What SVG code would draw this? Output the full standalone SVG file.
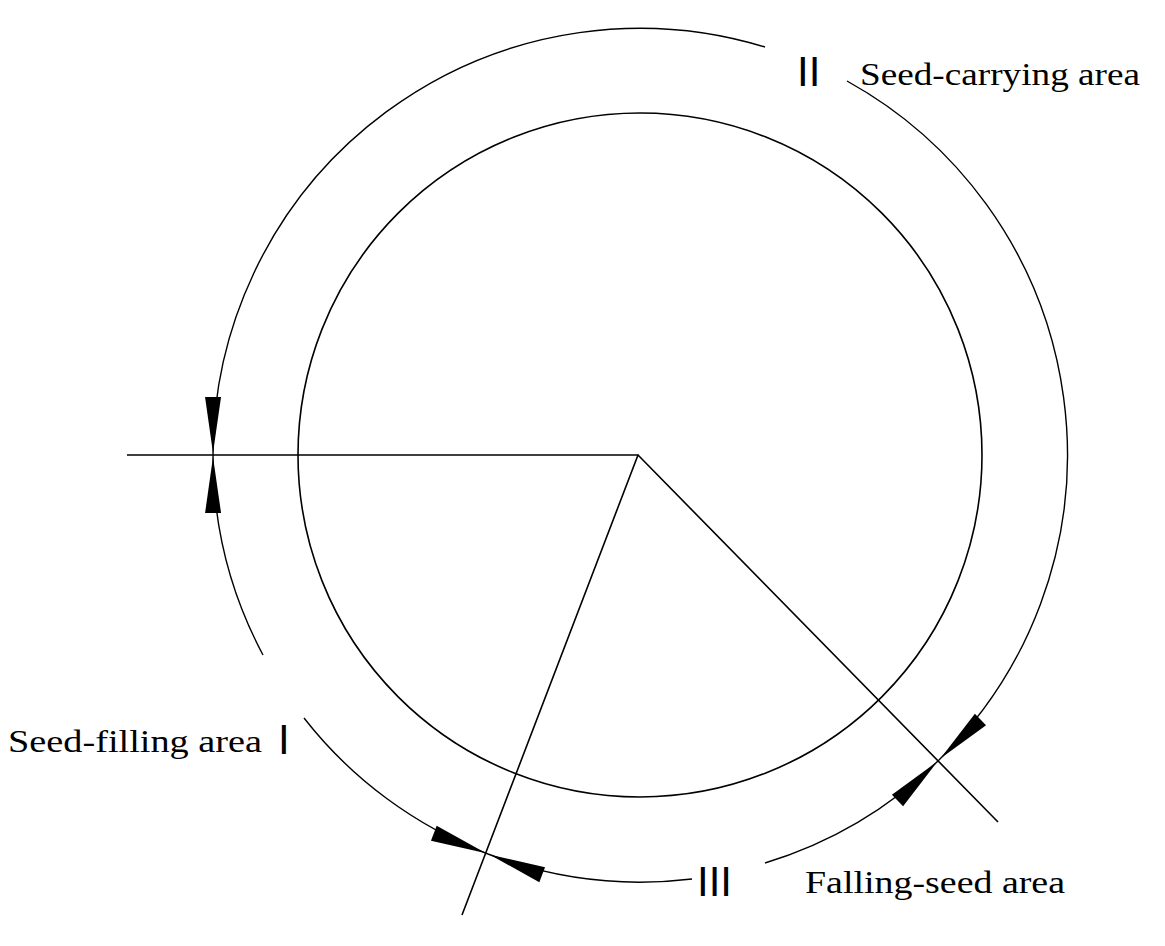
<svg xmlns="http://www.w3.org/2000/svg" width="1165" height="946" viewBox="0 0 1165 946">
<style>
.ln{fill:none;stroke:#000;stroke-width:1.6}
.arc{fill:none;stroke:#000;stroke-width:1.4;marker-start:url(#ah)}
.t{font-family:"Liberation Serif",serif;font-size:32px;fill:#000}
.r{font-family:"Liberation Sans",sans-serif;font-size:42px;fill:#000}
</style>
<defs>
<marker id="ah" markerUnits="userSpaceOnUse" markerWidth="80" markerHeight="30" viewBox="-60 -15 80 30" refX="0" refY="0" orient="auto-start-reverse">
<path d="M-2,0 L-58,-8 L-58,8 z" fill="#000"/>
</marker>
</defs>
<rect width="1165" height="946" fill="#fff"/>
<g id="disk"><circle cx="640" cy="455" r="342" class="ln" stroke-width="3"/></g>
<g id="connectors">
<path class="ln" d="M127,455 L638,455 L462,915 M638,455 L998,822"/>
<path class="arc" d="M213,455 A427,427 0 0 0 263,655"/>
<path class="arc" d="M488,854 A427,427 0 0 1 304,718"/>
<path class="arc" d="M213,455 A427,427 0 0 1 765,47"/>
<path class="arc" d="M939,760 A427,427 0 0 0 847,81"/>
<path class="arc" d="M488,854 A427,427 0 0 0 692,879"/>
<path class="arc" d="M939,760 A427,427 0 0 1 765,863"/>
</g>
<g id="labels">
<text class="r" x="797" y="86">II</text>
<text class="t" x="860" y="85" textLength="280" lengthAdjust="spacingAndGlyphs">Seed-carrying area</text>
<text class="t" x="8" y="752" textLength="254" lengthAdjust="spacingAndGlyphs">Seed-filling area</text>
<text class="r" x="278" y="754">I</text>
<text class="r" x="697" y="896">III</text>
<text class="t" x="805" y="893" textLength="260" lengthAdjust="spacingAndGlyphs">Falling-seed area</text>
</g>
</svg>
